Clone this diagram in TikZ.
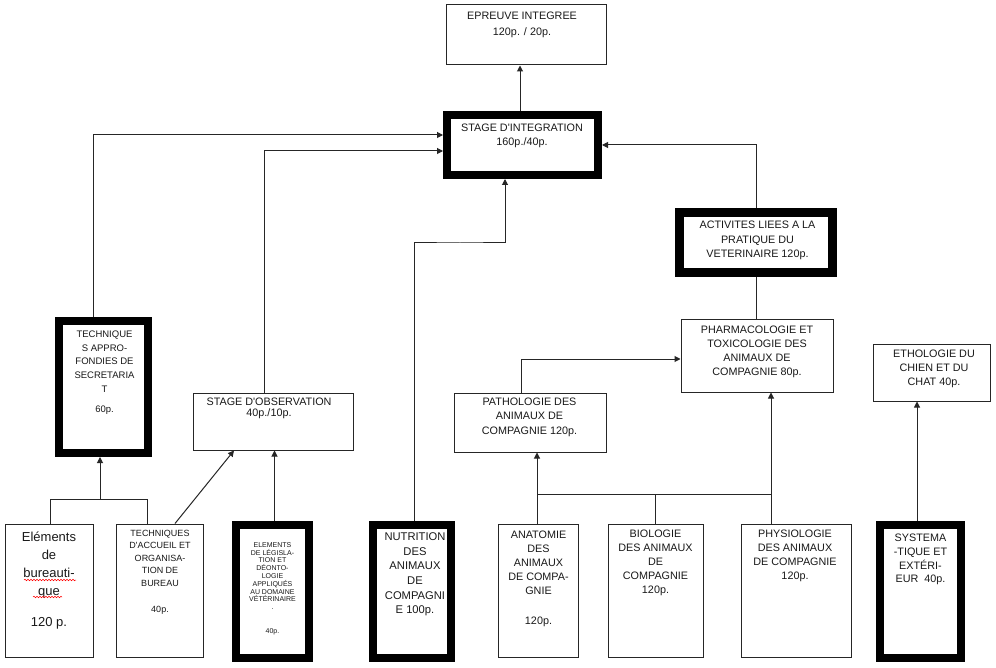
\documentclass[tikz,border=0pt]{standalone}
\usepackage{fontspec}
\setmainfont{Liberation Sans}
\usetikzlibrary{arrows.meta,decorations.pathmorphing}
\newcommand{\apos}{\textquotesingle}
\begin{document}
\begin{tikzpicture}[x=1pt,y=-1pt,
  box/.style={draw=black!85, line width=1pt, inner sep=0pt, rectangle, fill=white},
  heavybox/.style={draw=black, line width=8pt, inner sep=0pt, rectangle, fill=white},
  txt/.style={align=center, inner sep=0pt, font=\fontsize{10.8}{14}\selectfont, text=black!90},
  ln/.style={draw=black!85, line width=1pt},
  arr/.style={ln, -{Triangle[length=6pt,width=6pt]}},
]
\fill[white] (0,0) rectangle (996,668);
\useasboundingbox (0,0) rectangle (996,668);

% top boxes
\node[box, minimum width=160, minimum height=60] (epr) at (526,35) {};
\node[txt, font=\fontsize{10.8}{16}\selectfont] (epr-t) at (522,25) {EPREUVE INTEGREE\\120p. / 20p.};

\node[heavybox, minimum width=151, minimum height=60] (integ) at (522.5,145) {};
\node[txt] (integ-t) at (522,136) {STAGE D\apos INTEGRATION\\160p./40p.};

\node[heavybox, line width=9pt, minimum width=153, minimum height=60] (act) at (756,242.5) {};
\node[txt, font=\fontsize{10.8}{14.5}\selectfont] (act-t) at (757.5,240.5) {ACTIVITES LIEES A LA\\PRATIQUE DU\\VETERINAIRE 120p.};

% middle boxes
\node[heavybox, minimum width=89, minimum height=132] (tap) at (103.5,387) {};
\node[txt, font=\fontsize{9.5}{13.7}\selectfont] (tap-t) at (104.5,361.5) {TECHNIQUE\\S APPRO-\\FONDIES DE\\SECRETARIA\\T};
\node[txt, font=\fontsize{9.5}{13.7}\selectfont] (tap-p) at (104.5,410) {60p.};

\node[box, minimum width=160, minimum height=57] (obs) at (273,421.5) {};
\node[txt, font=\fontsize{10.8}{11.5}\selectfont] (obs-t) at (269,408.5) {STAGE D\apos OBSERVATION\\40p./10p.};

\node[box, minimum width=152, minimum height=59] (path) at (530,422.5) {};
\node[txt, font=\fontsize{10.8}{14.5}\selectfont] (path-t) at (529.5,417) {PATHOLOGIE DES\\ANIMAUX DE\\COMPAGNIE 120p.};

\node[box, minimum width=152, minimum height=72] (pharm) at (757,356) {};
\node[txt] (pharm-t) at (757,352) {PHARMACOLOGIE ET\\TOXICOLOGIE DES\\ANIMAUX DE\\COMPAGNIE 80p.};

\node[box, minimum width=117, minimum height=57] (etho) at (931.5,372.5) {};
\node[txt] (etho-t) at (934,369) {ETHOLOGIE DU\\CHIEN ET DU\\CHAT 40p.};

% bottom boxes
\node[box, minimum width=88, minimum height=133] (elem) at (49,590.5) {};
\node[txt, font=\fontsize{13}{18}\selectfont] (elem-t) at (49,565) {Eléments\\de\\bureauti-\\que};
\node[txt, font=\fontsize{13}{18}\selectfont] (elem-p) at (49,623) {120 p.};

\node[box, minimum width=87, minimum height=133] (tacc) at (159.5,590.5) {};
\node[txt, font=\fontsize{9}{12.5}\selectfont] (tacc-t) at (160,558) {TECHNIQUES\\D\apos ACCUEIL ET\\ORGANISA-\\TION DE\\BUREAU};
\node[txt, font=\fontsize{9}{12.5}\selectfont] (tacc-p) at (160,610) {40p.};

\node[heavybox, minimum width=73, minimum height=133] (leg) at (272.5,591.5) {};
\node[txt, font=\fontsize{7}{7.8}\selectfont] (leg-t) at (272.5,576) {ELEMENTS\\DE LÉGISLA-\\TION ET\\DÉONTO-\\LOGIE\\APPLIQUÉS\\AU DOMAINE\\VÉTÉRINAIRE\\.};
\node[txt, font=\fontsize{7}{7.8}\selectfont] (leg-p) at (272.5,632) {40p.};

\node[heavybox, minimum width=78, minimum height=133] (nutr) at (412,591.5) {};
\node[txt, font=\fontsize{11.2}{14.6}\selectfont] (nutr-t) at (415,574.5) {NUTRITION\\DES\\ANIMAUX\\DE\\COMPAGNI\\E 100p.};

\node[box, minimum width=80, minimum height=133] (anat) at (538,590.5) {};
\node[txt] (anat-t) at (538.5,563) {ANATOMIE\\DES\\ANIMAUX\\DE COMPA-\\GNIE};
\node[txt] (anat-p) at (538.5,622) {120p.};

\node[box, minimum width=95, minimum height=133] (bio) at (655.5,590.5) {};
\node[txt] (bio-t) at (655.5,563) {BIOLOGIE\\DES ANIMAUX\\DE\\COMPAGNIE\\120p.};

\node[box, minimum width=110, minimum height=133] (phys) at (796,590.5) {};
\node[txt] (phys-t) at (795,556) {PHYSIOLOGIE\\DES ANIMAUX\\DE COMPAGNIE\\120p.};

\node[heavybox, minimum width=81, minimum height=133] (syst) at (920.5,591.5) {};
\node[txt, font=\fontsize{10.8}{13.7}\selectfont] (syst-t) at (920.5,559.5) {SYSTEMA\\-TIQUE ET\\EXTÉRI-\\EUR\ \ 40p.};

% spelling marks
\draw[red, line width=0.5pt, decorate, decoration={snake, amplitude=0.8pt, segment length=3pt}] (24,580) -- (76,580);
\draw[red, line width=0.5pt, decorate, decoration={snake, amplitude=0.8pt, segment length=3pt}] (33,597) -- (62,597);

% helper coordinates
\coordinate (bl) at (50,499);
\coordinate (br) at (147,499);
\coordinate (bm) at (100,499);
\coordinate (nb) at (460,243);
\coordinate (busL) at (537,494);
\coordinate (busR) at (771,494);

% connectors
\draw[arr] ([xshift=-2.5]integ.north) -- ([xshift=-6]epr.south);
\draw[arr] ([xshift=-10.5]tap.north) |- ([yshift=10]integ.west);
\draw[arr] ([xshift=-9]obs.north) |- ([yshift=-6]integ.west);
\draw[arr] ([xshift=2]nutr.north) |- (nb) -| ([xshift=-17.5]integ.south);
\draw[arr] (act.north) |- (integ.east);
\draw[ln] (act.south) -- (act.south |- pharm.north);
\draw[arr] ([xshift=-9]path.north) |- ([yshift=-3]pharm.west);

\draw[ln] (elem.north -| bl) -- (bl) -- (br) -- (tacc.north -| br);
\draw[arr] (bm) -- (tap.south -| bm);
\draw[arr] ([xshift=15.5]tacc.north) -- ([xshift=-39]obs.south);
\draw[arr] ([xshift=2]leg.north) -- ([xshift=1.5]obs.south);

\draw[ln] (anat.north -| busL) -- (busL) -- (busR) -- (phys.north -| busR);
\draw[ln] (bio.north) -- (bio.north |- busL);
\draw[arr] (busL) -- (path.south -| busL);
\draw[arr] (busR) -- (pharm.south -| busR);
\draw[arr] ([xshift=-3.5]syst.north) -- ([xshift=-14.5]etho.south);
\end{tikzpicture}
\end{document}
